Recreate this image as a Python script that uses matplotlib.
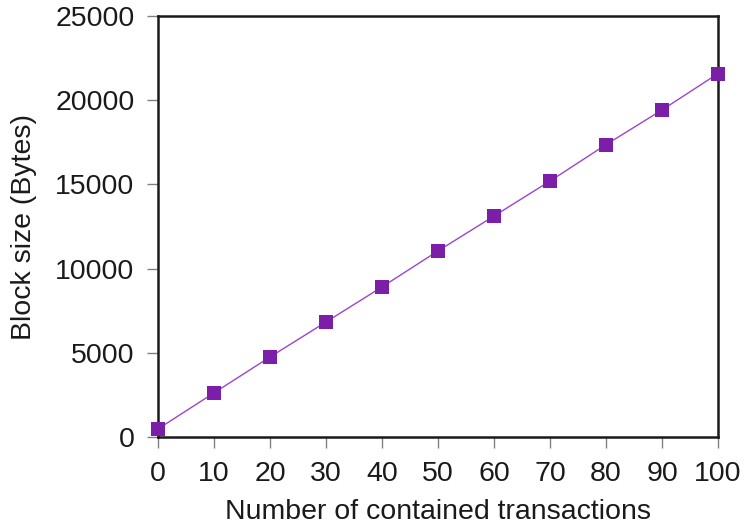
import matplotlib
matplotlib.use("Agg")
import matplotlib.pyplot as plt

transactions = [0, 10, 20, 30, 40, 50, 60, 70, 80, 90, 100]
block_size = [480, 2620, 4750, 6830, 8910, 11050, 13120, 15200, 17360, 19420, 21580]
x_ticks = [0, 10, 20, 30, 40, 50, 60, 70, 80, 90, 100]
y_ticks = [0, 5000, 10000, 15000, 20000, 25000]

plt.rcParams['font.family'] = ['Liberation Sans', 'DejaVu Sans']

fig = plt.figure(figsize=(7.45, 5.27), dpi=100)
ax = fig.add_axes([158/745, 1-437/527, (718-158)/745, (437-16)/527])

ax.plot(transactions, block_size, color='#9b45cc', linewidth=1.0, zorder=2,
        clip_on=False)
ax.plot(transactions, block_size, linestyle='none', marker='s', markersize=10.5,
        color='#7b1fa8', markeredgewidth=0, zorder=3, clip_on=False)

ax.set_xlim(0, 100)
ax.set_ylim(0, 25000)
ax.set_xticks(x_ticks)
ax.set_yticks(y_ticks)

for s in ax.spines.values():
    s.set_linewidth(1.8)
    s.set_color('#1a1a1a')

ax.tick_params(axis='both', direction='out', length=8, width=1.0,
               color='#808080', labelsize=20.5, labelcolor='#1a1a1a')
ax.tick_params(axis='x', pad=9)
ax.tick_params(axis='y', pad=9)

ax.set_xlabel('Number of contained transactions', fontsize=20.5, color='#1a1a1a', labelpad=9)
ax.set_ylabel('Block size (Bytes)', fontsize=20.5, color='#1a1a1a', labelpad=13)

fig.savefig('out.png', dpi=100)
